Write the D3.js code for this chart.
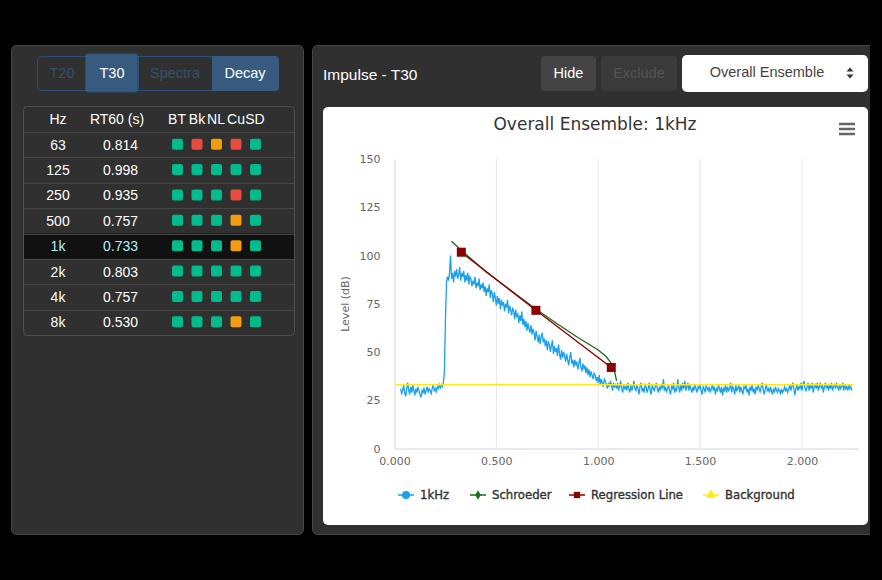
<!DOCTYPE html>
<html>
<head>
<meta charset="utf-8">
<script src="https://cdn.jsdelivr.net/npm/d3@7"></script>
<style>
html, body { margin: 0; padding: 0; background: #000; overflow: hidden; }
svg { display: block; }
.ui { font-family: "Liberation Sans", Arial, sans-serif; }
.hc { font-family: "DejaVu Sans", Verdana, sans-serif; }
</style>
</head>
<body>
<svg id="page" width="882" height="580"></svg>
<script>
// table
var band_labels = ["63", "125", "250", "500", "1k", "2k", "4k", "8k"];
var rt60_values = ["0.814", "0.998", "0.935", "0.757", "0.733", "0.803", "0.757", "0.530"];
var check_labels = ["BT", "Bk", "NL", "Cu", "SD"];
var check_status = [
    ["g", "r", "o", "r", "g"],
    ["g", "g", "g", "g", "g"],
    ["g", "g", "g", "r", "g"],
    ["g", "g", "g", "o", "g"],
    ["g", "g", "g", "o", "g"],
    ["g", "g", "g", "g", "g"],
    ["g", "g", "g", "g", "g"],
    ["g", "g", "g", "o", "g"]
];
var selected_band = "1k";

// chart
var x_ticks = [0, 0.5, 1, 1.5, 2];
var y_ticks = [0, 25, 50, 75, 100, 125, 150];

var impulse_start = 0.03;
var impulse_step = 0.005;
var impulse_levels = [
    31,28.5,30,33,29,27,31,34,30,28,32,29,33,30,27.5,31,29,32,30,28,26.5,30,29,31.5,28,30,32,29,31,30,28.5,31,33,30,31,29.5,32,31,33,31.5,33,32,34,
    40,66,86,89,87,91,100,88,
    91,86,92,89,93,88,90,94,87,91,
    89,92,86,90,87,91,85,89,88,84,
    87,85,89,83,86,84,88,82,85,83,
    86,81,84,79,83,81,85,78,82,80,
    76,81,78,74,79,75,78,72,77,74,
    76,71,75,73,77,70,74,72,69,73,
    71,67,72,68,70,65,69,66,71,64,
    67,63,66,61,65,62,60,64,59,62,
    60,56,61,58,55,59,54,58,60,55,
    57,53,56,51,55,54,50,53,56,49,
    53,50,52,48,54,49,46,51,47,50,
    48,45,49,46,43,47,50,44,46,42,
    46,43,45,41,44,47,42,40,44,41,
    43,39,42,38,41,37,40,38,36,39,
    38,35,37,34,38,33,36,34,32,36,
    35,33,31,34,32,35,33,30,34,32,
    33,31,34,30,32,35,31,29,33,31,
    32,30,34,31,29,33,30,32,35,31,
    30,33,31,28,32,34,30,31,29,33,
    32,29,31,34,30,28,33,31,30,32,
    34,31,29,32,30,33,31,36,30,32,
    29,31,33,30,28,32,31,34,29,31,
    30,36,32,29,33,30,34,31,35,30,
    32,34,30,33,31,29,32,30,33,31,
    29,32,31,33,30,28,32,31,29,33,
    31,30,32,29,31,33,30,32,28,31,
    30,33,31,29,32,27.5,31,30,33,29,
    32,30,31,34,29,32,31,28,33,30,
    31,33,29,32,30,28,32,31,33,29,
    31,27.5,32,30,33,29,31,28,32,30,
    33,31,29,32,34,30,28,31,33,30,
    31,29,32,30,28,31,29,32,30,29,
    31,30,28,31,29,30,32,30,31,29,
    31,33,30,32,34,31,27.5,31,33,30,
    32,31,34,30,33,35,31,30,32,34,
    30,33,31,34,29,32,33,31,34,30,
    32,34,31,33,29,32,34,31,33,30,
    33,31,34,30,32,33,31,34,32,30,
    33,31,32,34,30,33,31,32,30,33,
    31,32,30
];
var schroeder_times = [0.28, 0.33, 0.45, 0.57, 0.69, 0.8, 0.9, 1.0, 1.04, 1.065, 1.08, 1.09];
var schroeder_levels = [107.4, 102.5, 91.5, 82, 72.5, 64.5, 57.5, 51, 47.5, 44, 40, 35];
var regression_times = [0.328, 0.694, 1.064];
var regression_levels = [101.7, 71.6, 42];
var background_times = [0.005, 2.25];
var background_levels = [33, 33];

var status_colors = { g: "#00bc8c", r: "#e74c3c", o: "#f39c12" };
var blue = "#1ba1ec", green = "#156b1e", dark_red = "#8b0000", yellow = "#ffe81a";

var svg = d3.select("#page");

function add_box(x, y, w, h, r, fill, stroke) {
    return svg.append("rect").attr("x", x).attr("y", y).attr("width", w).attr("height", h)
        .attr("rx", r).attr("fill", fill).attr("stroke", stroke || "none");
}

function add_text(x, y, str, size, fill, anchor) {
    return svg.append("text").attr("class", "ui").attr("x", x).attr("y", y)
        .attr("font-size", size).attr("fill", fill).attr("text-anchor", anchor || "middle").text(str);
}

// panels
add_box(11.5, 45.5, 292, 489, 5, "#303030", "#474747");
add_box(312.5, 45.5, 570, 489, 5, "#303030", "#474747");
svg.append("rect").attr("x", 870).attr("y", 0).attr("width", 12).attr("height", 580).attr("fill", "#000");

// left button group
add_box(37.5, 56.5, 241, 34, 4, "#303030", "#2c4f75");
add_box(212, 56, 67, 35, 4, "#375a7f");
svg.append("rect").attr("x", 212).attr("y", 56).attr("width", 6).attr("height", 35).attr("fill", "#375a7f");
svg.append("line").attr("x1", 138.5).attr("x2", 138.5).attr("y1", 56).attr("y2", 91).attr("stroke", "#2c4f75");
add_box(85.5, 54, 52, 38, 2, "#375a7f", "#2f5075");
add_text(62, 78, "T20", 14.5, "#33506f");
add_text(112, 78, "T30", 14.5, "#fff");
add_text(175, 78, "Spectra", 14.5, "#33506f");
add_text(245, 78, "Decay", 14.5, "#fff");

// results table
add_box(23.5, 106.5, 271, 229, 4, "#303030", "#4f4f4f");
var row_y = d3.scaleBand().domain(band_labels).range([132, 335]);
var check_x = d3.scalePoint().domain(check_labels).range([177.5, 255.5]);
var header_x = { BT: 177, Bk: 197, NL: 216, Cu: 236, SD: 255 };

add_text(58, 124, "Hz", 14, "#fff");
add_text(117, 124, "RT60 (s)", 14, "#fff");
check_labels.forEach(function (d) { add_text(header_x[d], 124, d, 14, "#fff"); });

band_labels.forEach(function (band, i) {
    var y = row_y(band), h = row_y.bandwidth();
    var is_selected = band === selected_band;
    if (is_selected) {
        svg.append("rect").attr("x", 24).attr("y", y).attr("width", 270).attr("height", h).attr("fill", "#111");
    }
    svg.append("line").attr("x1", 24).attr("x2", 294).attr("y1", Math.round(y) + 0.5).attr("y2", Math.round(y) + 0.5)
        .attr("stroke", "#464646");
    var text_color = is_selected ? "#aef3fa" : "#fff";
    add_text(58, y + h / 2 + 5, band, 14, text_color);
    add_text(120.5, y + h / 2 + 5, rt60_values[i], 14, text_color);
    svg.selectAll("rect.check" + i)
        .data(check_status[i])
        .enter()
        .append("rect")
        .attr("class", "check" + i)
        .attr("x", function (d, j) { return check_x(check_labels[j]) - 5.5; })
        .attr("y", y + h / 2 - 6)
        .attr("width", 11).attr("height", 11).attr("rx", 2)
        .attr("fill", function (d) { return status_colors[d]; });
});

// right header
add_text(323, 80, "Impulse - T30", 15.5, "#fff", "start");
add_box(541, 56, 55, 35, 4, "#444");
add_text(568.5, 78, "Hide", 14.5, "#fff");
add_box(601, 56, 76, 35, 4, "#3a3a3a");
add_text(639, 78, "Exclude", 14.5, "#555");
add_box(682, 55, 186, 37, 5, "#fff");
add_text(767, 77, "Overall Ensemble", 14.5, "#444");
svg.append("path").attr("d", "M846.5 71.5l3.5-4 3.500 4zM846.5 74.500l3.500 4 3.500-4z").attr("fill", "#333");

// chart card
add_box(323, 107, 545, 418, 5, "#fff");
svg.append("text").attr("class", "hc").attr("x", 595).attr("y", 130).attr("text-anchor", "middle")
    .attr("font-size", 17).attr("fill", "#333").text("Overall Ensemble: 1kHz");
[124, 129, 134].forEach(function (y) {
    svg.append("line").attr("x1", 839).attr("x2", 855).attr("y1", y).attr("y2", y)
        .attr("stroke", "#666").attr("stroke-width", 2.5);
});

var x_scale = d3.scaleLinear().domain([0, 2.275]).range([394.5, 858]);
var y_scale = d3.scaleLinear().domain([0, 150]).range([448.5, 159]);

// vertical grid
svg.append("g").selectAll("line").data(x_ticks.slice(1)).enter().append("line")
    .attr("x1", function (d) { return x_scale(d); }).attr("x2", function (d) { return x_scale(d); })
    .attr("y1", 159).attr("y2", 448).attr("stroke", "#e6e6e6");

var x_axis = svg.append("g").attr("class", "hc").attr("transform", "translate(0,448.5)")
    .call(d3.axisBottom(x_scale).tickValues(x_ticks).tickFormat(d3.format(".3f")).tickSize(0).tickPadding(9));
x_axis.select(".domain").attr("stroke", "#ccd6eb");
x_axis.selectAll("text").attr("fill", "#666").attr("font-size", 11).attr("font-family", "DejaVu Sans");

var y_axis = svg.append("g").attr("class", "hc").attr("transform", "translate(394.5,0)")
    .call(d3.axisLeft(y_scale).tickValues(y_ticks).tickSize(0).tickPadding(14));
y_axis.select(".domain").attr("stroke", "#ccd6eb");
y_axis.selectAll("text").attr("fill", "#666").attr("font-size", 11).attr("font-family", "DejaVu Sans");

svg.append("text").attr("class", "hc").attr("transform", "translate(349,304) rotate(-90)")
    .attr("text-anchor", "middle").attr("font-size", 11).attr("fill", "#666").text("Level (dB)");

// series
var line = d3.line().x(function (d) { return x_scale(d[0]); }).y(function (d) { return y_scale(d[1]); });

function add_series(times, levels, color, width) {
    svg.append("path").datum(levels.map(function (v, i) { return [times[i], v]; }))
        .attr("d", line).attr("fill", "none").attr("stroke", color).attr("stroke-width", width);
}

var impulse_times = impulse_levels.map(function (v, i) { return impulse_start + i * impulse_step; });

add_series(impulse_times, impulse_levels, blue, 1.3);
add_series(background_times, background_levels, yellow, 1.4);
add_series(schroeder_times, schroeder_levels, green, 1.3);
add_series(regression_times, regression_levels, dark_red, 1.4);

svg.append("g").selectAll("rect").data(regression_times).enter().append("rect")
    .attr("x", function (d) { return x_scale(d) - 4.5; })
    .attr("y", function (d, i) { return y_scale(regression_levels[i]) - 4.5; })
    .attr("width", 9).attr("height", 9).attr("fill", dark_red);

// legend
var legend_labels = ["1kHz", "Schroeder", "Regression Line", "Background"];
var legend_colors = [blue, green, dark_red, yellow];
var legend_x = [398, 470, 569, 703];
var legend_y = 495;
var symbol_types = [d3.symbolCircle, d3.symbolDiamond, d3.symbolSquare, d3.symbolTriangle];
var symbol_sizes = [50, 26, 40, 42];

legend_labels.forEach(function (label, i) {
    svg.append("line").attr("x1", legend_x[i]).attr("x2", legend_x[i] + 16).attr("y1", legend_y).attr("y2", legend_y)
        .attr("stroke", legend_colors[i]).attr("stroke-width", 1.5);
    svg.append("path").attr("transform", "translate(" + (legend_x[i] + 8) + "," + legend_y + ")")
        .attr("d", d3.symbol().type(symbol_types[i]).size(symbol_sizes[i])()).attr("fill", legend_colors[i]);
    svg.append("text").attr("class", "hc").attr("x", legend_x[i] + 22).attr("y", legend_y + 4)
        .attr("font-size", 11.7).attr("stroke", "#333").attr("stroke-width", 0.35).attr("fill", "#333").text(label);
});
</script>
</body>
</html>
